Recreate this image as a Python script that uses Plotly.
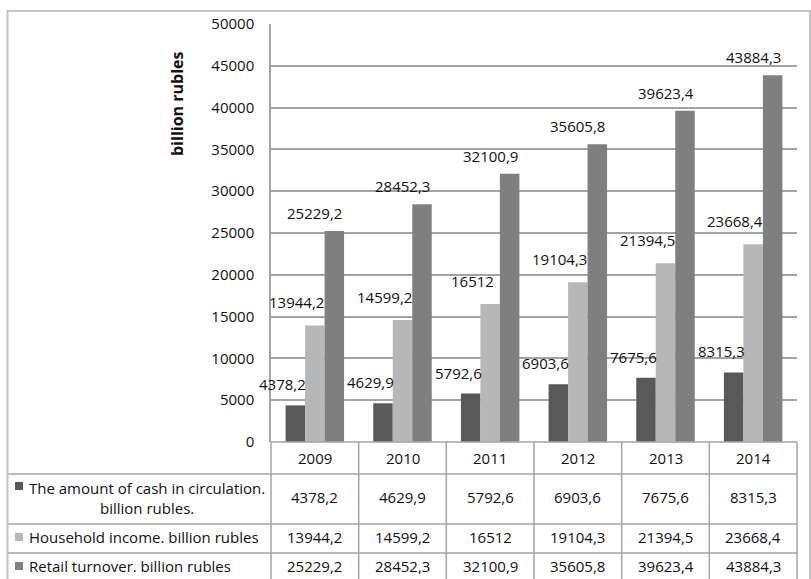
import plotly.graph_objects as go

years = ["2009", "2010", "2011", "2012", "2013", "2014"]
cash = [4378.2, 4629.9, 5792.6, 6903.6, 7675.6, 8315.3]
income = [13944.2, 14599.2, 16512, 19104.3, 21394.5, 23668.4]
retail = [25229.2, 28452.3, 32100.9, 35605.8, 39623.4, 43884.3]
cash_label = "The amount of cash in circulation.<br>billion rubles."
income_label = "Household income. billion rubles"
retail_label = "Retail turnover. billion rubles"
y_title = "billion rubles"
y_ticks = [0, 5000, 10000, 15000, 20000, 25000, 30000, 35000, 40000, 45000, 50000]

def fmt(v):
    s = ("%.1f" % v).rstrip("0").rstrip(".")
    return s.replace(".", ",")

W, H = 811, 579
L, R, T, B = 271, 797, 24, 442
PW, PH = R - L, B - T

def px(x):
    return (x - L) / PW

def py(y):
    return (B - y) / PH

FONT = "Open Sans"
TXT = "#111111"
GRID = "#a3a3a3"
colors = ["#595959", "#b7b7b7", "#7f7f7f"]
series = [(cash, colors[0], cash_label), (income, colors[1], income_label), (retail, colors[2], retail_label)]

fig = go.Figure()
for vals, col, name in series:
    fig.add_trace(go.Bar(x=years, y=vals, marker=dict(color=col, line=dict(width=0)),
                         name=name, showlegend=False, hoverinfo="skip"))

ann = []
# data labels (x given as category index on the category axis)
shifts = [(-32, 21), (-18, 23), (0, 18)]
for (vals, col, name), (xs, ys) in zip(series, shifts):
    for i, v in enumerate(vals):
        ann.append(dict(x=i, y=v, xref="x", yref="y", text=fmt(v), showarrow=False,
                        xshift=xs, yshift=ys, yanchor="middle", xanchor="center",
                        font=dict(family=FONT, size=15, color=TXT)))

# y title
ann.append(dict(x=px(177), y=py(104), xref="paper", yref="paper", text="<b>%s</b>" % y_title,
                textangle=-90, showarrow=False, xanchor="center", yanchor="middle",
                font=dict(family=FONT, size=16, color=TXT)))

# table rows
row_y = [458, 497, 537, 566]
for i, yr in enumerate(years):
    ann.append(dict(x=i, y=py(row_y[0]), xref="x", yref="paper", text=yr, showarrow=False,
                    yanchor="middle", font=dict(family=FONT, size=15, color=TXT)))
for ri, (vals, col, name) in enumerate(series):
    for i, v in enumerate(vals):
        ann.append(dict(x=i, y=py(row_y[ri + 1]), xref="x", yref="paper", text=fmt(v),
                        showarrow=False, yanchor="middle",
                        font=dict(family=FONT, size=15, color=TXT)))

# legend texts
ann.append(dict(x=px(147), y=py(498), xref="paper", yref="paper", text=cash_label, showarrow=False,
                align="center", yanchor="middle", xanchor="center",
                font=dict(family=FONT, size=15, color=TXT)))
ann.append(dict(x=px(27), y=py(537), xref="paper", yref="paper", text=income_label, showarrow=False,
                yanchor="middle", xanchor="left", font=dict(family=FONT, size=15, color=TXT)))
ann.append(dict(x=px(27), y=py(566), xref="paper", yref="paper", text=retail_label, showarrow=False,
                yanchor="middle", xanchor="left", font=dict(family=FONT, size=15, color=TXT)))

shapes = []
LINE = dict(color=GRID, width=1.5)
bottom = py(H + 5)
# horizontal table lines
shapes.append(dict(type="line", xref="paper", yref="paper", x0=0, x1=1, y0=0, y1=0, line=LINE))
for yy in [474, 524, 553]:
    shapes.append(dict(type="line", xref="paper", yref="paper", x0=px(8), x1=1, y0=py(yy), y1=py(yy), line=LINE))
# vertical table lines
for i in range(len(years) + 1):
    xx = i / len(years)
    shapes.append(dict(type="line", xref="paper", yref="paper", x0=xx, x1=xx, y0=0, y1=bottom, line=LINE))
# legend keys
for yy, col in zip([486, 537, 566], colors):
    shapes.append(dict(type="rect", xref="paper", yref="paper", x0=px(15), x1=px(23),
                       y0=py(yy - 4), y1=py(yy + 4), fillcolor=col, line=dict(width=0)))
# outer border
shapes.append(dict(type="rect", xref="paper", yref="paper", x0=px(7.5), x1=px(810),
                   y0=py(H + 10), y1=py(11), line=dict(color="#c4c4c4", width=2)))

fig.update_layout(
    width=W, height=H,
    margin=dict(l=L, r=W - R, t=T, b=H - B),
    paper_bgcolor="white", plot_bgcolor="white",
    barmode="group", bargap=0.333, bargroupgap=0,
    annotations=ann, shapes=shapes,
    xaxis=dict(type="category", range=[-0.5, len(years) - 0.5], showticklabels=False,
               showgrid=False, ticks="", zeroline=False, showline=False),
    yaxis=dict(range=[0, 50000], tickvals=y_ticks, ticktext=[str(t) for t in y_ticks],
               showgrid=True, gridcolor=GRID, gridwidth=1.5, zeroline=False,
               showline=True, linecolor=GRID, linewidth=1.5, ticks="", ticklabelstandoff=12,
               tickfont=dict(family=FONT, size=15, color=TXT)),
)

fig.write_html("out.html")
